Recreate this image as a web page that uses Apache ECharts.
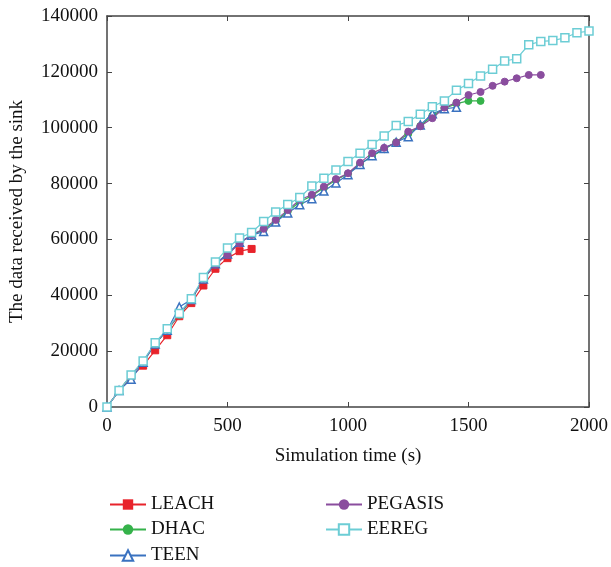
<!DOCTYPE html>
<html lang="en">
<head>
<meta charset="utf-8">
<script src="https://cdn.jsdelivr.net/npm/echarts@6/dist/echarts.min.js"></script>
</head>
<body style="margin:0">
<div id="main" style="width:611px;height:567px"></div>
<script type="text/javascript">
// simulation time steps (s)
var timeSteps = [0, 50, 100, 150, 200, 250, 300, 350, 400, 450, 500, 550, 600, 650, 700, 750, 800, 850, 900, 950,
    1000, 1050, 1100, 1150, 1200, 1250, 1300, 1350, 1400, 1450, 1500, 1550, 1600, 1650, 1700, 1750, 1800, 1850, 1900, 1950, 2000];

var leach = [0, 5900, 11000, 14800, 20300, 25700, 32500, 37200, 43500, 49500, 53300, 55800, 56600];
var dhac = [0, 5900, 11400, 16200, 22600, 27500, 33000, 38300, 45800, 51200, 54800, 58800, 61500, 63500, 66500, 70000,
    73500, 75600, 78500, 81300, 83500, 87000, 89800, 92300, 94800, 97800, 100600, 104300, 106900, 108600, 109600, 109600];
var teen = [0, 5900, 9900, 16000, 22600, 27500, 35800, 38500, 45800, 51300, 54800, 59000, 61500, 62800, 66200, 69500,
    72400, 74600, 77300, 80200, 83200, 86800, 90000, 92600, 94800, 96800, 101000, 105000, 106800, 107300];
var pegasis = [0, 5900, 11300, 16300, 22800, 27700, 33200, 38500, 46000, 51000, 54500, 58600, 61600, 63800, 67000, 70500,
    74200, 76000, 78900, 81600, 83700, 87500, 90900, 92800, 94700, 98600, 100500, 103400, 107200, 109000, 111700, 112800,
    115000, 116500, 117700, 118900, 118900];
var eereg = [0, 5900, 11500, 16500, 23000, 28000, 33500, 38800, 46400, 51900, 56900, 60500, 62500, 66400, 69800, 72500,
    75000, 79100, 81900, 84900, 87900, 90900, 94000, 97000, 100800, 102200, 104800, 107500, 109600, 113400, 115800, 118500,
    120900, 123900, 124700, 129700, 130900, 131200, 132200, 134000, 134600];

function pairs(vals) {
    var out = [];
    for (var i = 0; i < vals.length; i++) out.push([timeSteps[i], vals[i]]);
    return out;
}

var font = 'Liberation Serif';
var axisColor = '#444';

var myChart = echarts.init(document.getElementById('main'));

function mkSeries(name, vals, color, symbol, size, hollow) {
    return {
        name: name,
        type: 'line',
        data: pairs(vals),
        symbol: symbol,
        symbolSize: size,
        showAllSymbol: true,
        lineStyle: {color: color, width: 1.2},
        itemStyle: hollow ? {color: '#fff', borderColor: color, borderWidth: 1.5} : {color: color, borderColor: color},
        emphasis: {disabled: true},
        animation: false
    };
}

// one legend per entry, so the two columns sit where they do in the figure
function mkLegend(name, left, top) {
    return {
        data: [name], left: left, top: top,
        itemWidth: 36, itemHeight: 13,
        textStyle: {fontFamily: font, fontSize: 19, color: '#111'}
    };
}

function plain(v) { return String(v); }

var option = {
    animation: false,
    grid: {left: 107, right: 18, top: 16, bottom: 160},
    legend: [
        mkLegend('LEACH', 104, 490),
        mkLegend('DHAC', 104, 515),
        mkLegend('TEEN', 104, 541),
        mkLegend('PEGASIS', 320, 490),
        mkLegend('EEREG', 320, 515)
    ],
    xAxis: [{
        type: 'value', min: 0, max: 2000, interval: 500,
        name: 'Simulation time (s)', nameLocation: 'middle', nameGap: 40,
        nameTextStyle: {fontFamily: font, fontSize: 19, color: '#111'},
        axisLine: {lineStyle: {color: axisColor, width: 1.5}},
        axisTick: {inside: true, length: 5, lineStyle: {color: axisColor}},
        axisLabel: {fontFamily: font, fontSize: 19, color: '#111', margin: 10, formatter: plain},
        splitLine: {show: false}
    }, {
        type: 'value', min: 0, max: 2000, interval: 500, position: 'top', show: true,
        axisLine: {show: true, onZero: false, lineStyle: {color: axisColor, width: 1.5}},
        axisTick: {show: true, inside: true, length: 5, lineStyle: {color: axisColor}},
        axisLabel: {show: false},
        splitLine: {show: false}
    }],
    yAxis: [{
        type: 'value', min: 0, max: 140000, interval: 20000,
        name: 'The data received by the sink', nameLocation: 'middle', nameGap: 80,
        nameTextStyle: {fontFamily: font, fontSize: 19, color: '#111'},
        axisLine: {show: true, lineStyle: {color: axisColor, width: 1.5}},
        axisTick: {show: true, inside: true, length: 5, lineStyle: {color: axisColor}},
        axisLabel: {fontFamily: font, fontSize: 19, color: '#111', margin: 9, formatter: plain},
        splitLine: {show: false}
    }, {
        type: 'value', min: 0, max: 140000, interval: 20000, position: 'right', show: true,
        axisLine: {show: true, onZero: false, lineStyle: {color: axisColor, width: 1.5}},
        axisTick: {show: true, inside: true, length: 5, lineStyle: {color: axisColor}},
        axisLabel: {show: false},
        splitLine: {show: false}
    }],
    series: [
        mkSeries('LEACH', leach, '#e8232b', 'rect', 7, false),
        mkSeries('DHAC', dhac, '#35b24a', 'circle', 7, false),
        mkSeries('TEEN', teen, '#3a72c0', 'triangle', 8, true),
        mkSeries('PEGASIS', pegasis, '#8a4d9e', 'circle', 7, false),
        mkSeries('EEREG', eereg, '#6ccdd5', 'rect', 8, true),
        // empty series so the frame axes on top/right are drawn
        {type: 'line', xAxisIndex: 1, yAxisIndex: 1, data: [], silent: true}
    ]
};

myChart.setOption(option);
</script>
</body>
</html>
